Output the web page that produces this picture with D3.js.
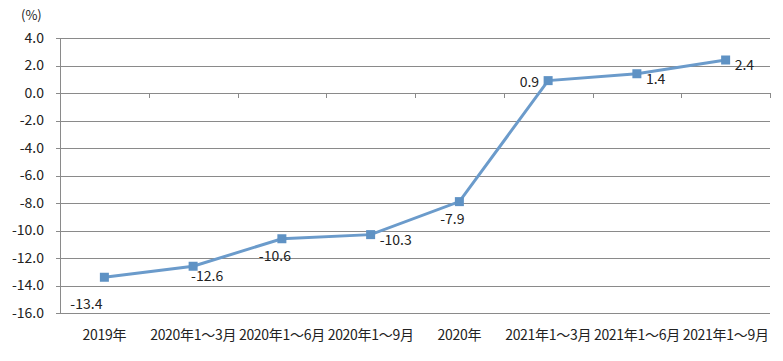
<!DOCTYPE html>
<html>
<head>
<meta charset="utf-8">
<script src="https://cdn.jsdelivr.net/npm/d3@7"></script>
<style>
  body { margin: 0; background: #fff; }
  text { font-family: "Noto Sans CJK SC", "Noto Sans", sans-serif; fill: #222; }
</style>
</head>
<body>
<div class="container"></div>
<script>
const categories = ['2019年', '2020年1～3月', '2020年1～6月', '2020年1～9月', '2020年', '2021年1～3月', '2021年1～6月', '2021年1～9月']
const values = [-13.4, -12.6, -10.6, -10.3, -7.9, 0.9, 1.4, 2.4]
// 标签位置: 'bl' 左下, 'b' 下, 'r' 右, 'l' 左
const labelPos = ['bl', 'b', 'b', 'r', 'b', 'l', 'r', 'r']
const yTicks = [4, 2, 0, -2, -4, -6, -8, -10, -12, -14, -16]

const w = 783
const h = 361
const padding = { left: 60, right: 13, top: 38, bottom: 48 }

const svg = d3.select('.container')
              .append('svg')
              .attr('width', w)
              .attr('height', h)

const xScale = d3.scaleBand()
                 .domain(categories)
                 .range([padding.left, w - padding.right])
const yScale = d3.scaleLinear()
                 .domain([-16, 4])
                 .range([h - padding.bottom, padding.top])

const fmt = (d) => d.toFixed(1)

// 网格线
svg.append('g')
   .selectAll('line')
   .data(yTicks)
   .enter()
   .append('line')
   .attr('x1', padding.left - 4)
   .attr('x2', w - padding.right)
   .attr('y1', (d) => Math.round(yScale(d)) + 0.5)
   .attr('y2', (d) => Math.round(yScale(d)) + 0.5)
   .attr('stroke', '#8a8a8a')
   .attr('stroke-width', 1)

// y轴
svg.append('line')
   .attr('x1', padding.left + 0.5)
   .attr('x2', padding.left + 0.5)
   .attr('y1', yScale(4))
   .attr('y2', yScale(-16))
   .attr('stroke', '#8a8a8a')

svg.append('g')
   .selectAll('text')
   .data(yTicks)
   .enter()
   .append('text')
   .attr('x', 44)
   .attr('y', (d) => yScale(d))
   .attr('dy', '0.35em')
   .attr('text-anchor', 'end')
   .style('font-size', '14px')
   .text((d) => fmt(d))

svg.append('text')
   .attr('x', 21)
   .attr('y', 20)
   .style('font-size', '13px')
   .text('(%)')

// x轴刻度 (在0线上)
const tickX = categories.map((c) => xScale(c) + xScale.bandwidth())
svg.append('g')
   .selectAll('line')
   .data(tickX)
   .enter()
   .append('line')
   .attr('x1', (d) => Math.round(d) + 0.5)
   .attr('x2', (d) => Math.round(d) + 0.5)
   .attr('y1', yScale(0))
   .attr('y2', yScale(0) + 5)
   .attr('stroke', '#8a8a8a')

// x轴标签
svg.append('g')
   .selectAll('text')
   .data(categories)
   .enter()
   .append('text')
   .attr('x', (d) => xScale(d) + xScale.bandwidth() / 2)
   .attr('y', 340)
   .attr('text-anchor', 'middle')
   .style('font-size', '14px')
   .style('letter-spacing', '-0.3px')
   .text((d) => d)

// 折线
const line = d3.line()
               .x((d, i) => xScale(categories[i]) + xScale.bandwidth() / 2)
               .y((d) => yScale(d))

svg.append('path')
   .datum(values)
   .attr('d', line)
   .attr('fill', 'none')
   .attr('stroke', '#6b9bcb')
   .attr('stroke-width', 3)

svg.append('g')
   .selectAll('rect')
   .data(values)
   .enter()
   .append('rect')
   .attr('x', (d, i) => xScale(categories[i]) + xScale.bandwidth() / 2 - 4.5)
   .attr('y', (d) => yScale(d) - 4.5)
   .attr('width', 9)
   .attr('height', 9)
   .attr('fill', '#5f92c4')

// 数据标签
svg.append('g')
   .selectAll('text')
   .data(values)
   .enter()
   .append('text')
   .attr('x', (d, i) => {
     const cx = xScale(categories[i]) + xScale.bandwidth() / 2
     switch (labelPos[i]) {
       case 'bl': return cx - 18
       case 'b': return i === 1 ? cx + 14 : cx - 7
       case 'r': return cx + 9
       case 'l': return cx - 9
     }
   })
   .attr('y', (d, i) => {
     const cy = yScale(d)
     switch (labelPos[i]) {
       case 'bl': return cy + 27
       case 'b': return cy + (i === 1 ? 10 : 17)
       case 'r': return cy + 5
       case 'l': return cy + 1
     }
   })
   .attr('text-anchor', (d, i) => {
     const p = labelPos[i]
     return p === 'r' ? 'start' : p === 'l' ? 'end' : 'middle'
   })
   .attr('dy', '0.35em')
   .style('font-size', '14px')
   .text((d) => fmt(d))
</script>
</body>
</html>
